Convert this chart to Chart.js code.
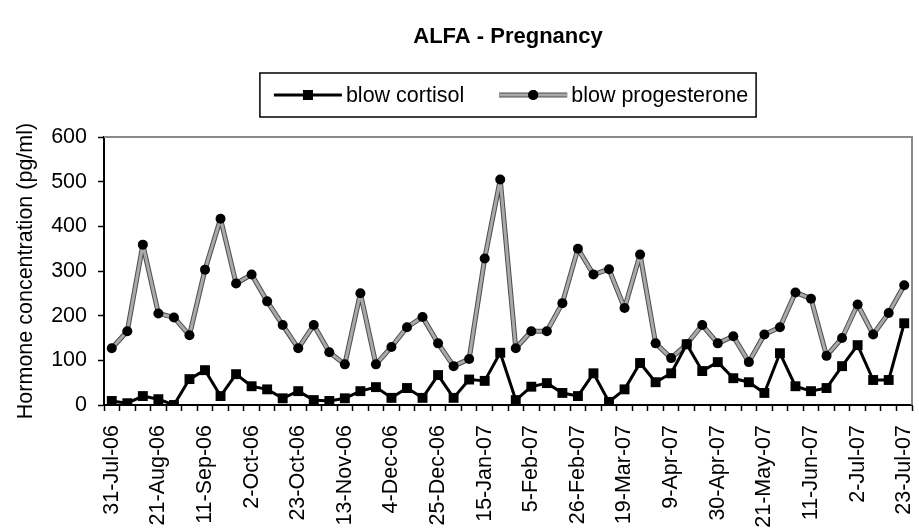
<!DOCTYPE html>
<html>
<head>
<meta charset="utf-8">
<script src="https://cdn.jsdelivr.net/npm/chart.js@4.4.1/dist/chart.umd.min.js"></script>
<style>
  html, body { margin: 0; padding: 0; background: #fff; }
  #wrap { width: 919px; height: 531px; }
</style>
</head>
<body>
<div id="wrap"><canvas id="chart" width="919" height="531"></canvas></div>
<script>
const chartTitle = 'ALFA - Pregnancy';
const yTitle = 'Hormone concentration (pg/ml)';

const weeks = [
  '31-Jul-06', '7-Aug-06', '14-Aug-06', '21-Aug-06', '28-Aug-06', '4-Sep-06',
  '11-Sep-06', '18-Sep-06', '25-Sep-06', '2-Oct-06', '9-Oct-06', '16-Oct-06',
  '23-Oct-06', '30-Oct-06', '6-Nov-06', '13-Nov-06', '20-Nov-06', '27-Nov-06',
  '4-Dec-06', '11-Dec-06', '18-Dec-06', '25-Dec-06', '1-Jan-07', '8-Jan-07',
  '15-Jan-07', '22-Jan-07', '29-Jan-07', '5-Feb-07', '12-Feb-07', '19-Feb-07',
  '26-Feb-07', '5-Mar-07', '12-Mar-07', '19-Mar-07', '26-Mar-07', '2-Apr-07',
  '9-Apr-07', '16-Apr-07', '23-Apr-07', '30-Apr-07', '7-May-07', '14-May-07',
  '21-May-07', '28-May-07', '4-Jun-07', '11-Jun-07', '18-Jun-07', '25-Jun-07',
  '2-Jul-07', '9-Jul-07', '16-Jul-07', '23-Jul-07'
];

const cortisol = [
  9, 4, 20, 13, 0, 58, 78, 20, 69, 42, 35, 15, 31, 11, 9, 15, 31, 40,
  16, 38, 16, 67, 16, 57, 54, 117, 11, 41, 49, 27, 20, 71, 7, 35, 94, 51,
  71, 136, 76, 96, 60, 51, 27, 116, 42, 31, 38, 87, 134, 56, 56, 183
];

const progesterone = [
  127, 165, 359, 205, 196, 156, 303, 417, 272, 292, 232, 179, 127, 179, 118, 91, 250, 91,
  130, 174, 197, 138, 87, 103, 328, 505, 127, 165, 165, 228, 350, 292, 304, 217, 337, 138,
  105, 136, 179, 138, 154, 96, 158, 174, 252, 238, 110, 150, 225, 158, 206, 268
];

const yMin = 0, yMax = 600, yStep = 100;
const labelEvery = 3;

const FONT = "'Liberation Sans', Arial, sans-serif";
const TXT = 21.5;

// gray top/right frame of the plot area
const plotFrame = {
  id: 'plotFrame',
  beforeDatasetsDraw(chart) {
    const { ctx, chartArea: a } = chart;
    ctx.save();
    ctx.strokeStyle = '#8a8a8a';
    ctx.lineWidth = 2;
    ctx.beginPath();
    ctx.moveTo(a.left, a.top);
    ctx.lineTo(a.right, a.top);
    ctx.lineTo(a.right, a.bottom);
    ctx.stroke();
    ctx.restore();
  }
};

// dark edge under the gray progesterone line
function strokeEdge(ctx, pts) {
  ctx.save();
  ctx.strokeStyle = '#4d4d4d';
  ctx.lineWidth = 5;
  ctx.lineJoin = 'round';
  ctx.beginPath();
  pts.forEach((p, i) => i ? ctx.lineTo(p.x, p.y) : ctx.moveTo(p.x, p.y));
  ctx.stroke();
  ctx.restore();
}

const edgeLine = {
  id: 'edgeLine',
  beforeDatasetDraw(chart, args) {
    if (args.index !== 1) return;
    strokeEdge(chart.ctx, args.meta.data);
  }
};

// title centred on the plot area + boxed legend with marker-on-line samples
const boxLegend = {
  id: 'boxLegend',
  afterDraw(chart) {
    const { ctx, chartArea: a } = chart;
    const midX = (a.left + a.right) / 2;
    ctx.save();
    ctx.fillStyle = '#000';
    ctx.textBaseline = 'middle';
    ctx.textAlign = 'center';
    ctx.font = 'bold 22px ' + FONT;
    ctx.fillText(chartTitle, midX, 37);

    ctx.font = TXT + 'px ' + FONT;
    ctx.textAlign = 'left';
    const sample = 68, gap = 4, itemGap = 35, padL = 14, padR = 8;
    const items = chart.data.datasets.map(ds => ({ ds, w: sample + gap + ctx.measureText(ds.label).width }));
    const boxW = padL + padR + items.reduce((s, it) => s + it.w, 0) + itemGap * (items.length - 1);
    const boxTop = 73, boxH = 44, cy = boxTop + boxH / 2;
    let x = midX - boxW / 2;
    ctx.strokeStyle = '#000';
    ctx.lineWidth = 1.5;
    ctx.strokeRect(x, boxTop, boxW, boxH);
    x += padL;
    items.forEach((it, i) => {
      const ds = it.ds;
      if (i === 1) strokeEdge(ctx, [{ x: x, y: cy }, { x: x + sample, y: cy }]);
      ctx.strokeStyle = ds.borderColor;
      ctx.lineWidth = ds.borderWidth;
      ctx.beginPath();
      ctx.moveTo(x, cy);
      ctx.lineTo(x + sample, cy);
      ctx.stroke();
      Chart.helpers.drawPoint(ctx, {
        pointStyle: ds.pointStyle, radius: ds.pointRadius, borderWidth: 0, rotation: 0
      }, x + sample / 2, cy);
      ctx.fillStyle = '#000';
      ctx.fill();
      ctx.fillText(ds.label, x + sample + gap, cy + 1);
      x += it.w + itemGap;
    });
    ctx.restore();
  }
};

new Chart(document.getElementById('chart'), {
  type: 'line',
  data: {
    labels: weeks,
    datasets: [
      {
        label: 'blow cortisol',
        data: cortisol,
        borderColor: '#000',
        borderWidth: 3,
        borderJoinStyle: 'round',
        pointStyle: 'rect',
        pointRadius: 7,
        pointBackgroundColor: '#000',
        pointBorderWidth: 0,
        tension: 0
      },
      {
        label: 'blow progesterone',
        data: progesterone,
        borderColor: '#a9a9a9',
        borderWidth: 3,
        borderJoinStyle: 'round',
        pointStyle: 'circle',
        pointRadius: 5,
        pointBackgroundColor: '#000',
        pointBorderWidth: 0,
        tension: 0
      }
    ]
  },
  options: {
    responsive: false,
    animation: false,
    devicePixelRatio: 1,
    events: [],
    layout: { padding: { left: 0, right: 2, top: 137, bottom: 0 } },
    plugins: {
      legend: { display: false },
      title: { display: false },
      tooltip: { enabled: false }
    },
    scales: {
      x: {
        offset: true,
        grid: { offset: true, drawOnChartArea: false, tickLength: 6, tickColor: '#000', tickWidth: 1.5 },
        border: { color: '#000', width: 2 },
        ticks: {
          autoSkip: false,
          maxRotation: 90,
          minRotation: 90,
          padding: 14,
          color: '#000',
          font: { family: FONT, size: TXT },
          callback: function (v, i) { return i % labelEvery === 0 ? this.getLabelForValue(v) : ''; }
        },
        afterFit(s) { s.height = 126; s.paddingLeft = 0; s.paddingRight = 0; }
      },
      y: {
        min: yMin,
        max: yMax,
        grid: { drawOnChartArea: false, tickLength: 6, tickColor: '#000', tickWidth: 1.5 },
        border: { color: '#000', width: 2 },
        ticks: { stepSize: yStep, padding: 11, color: '#000', font: { family: FONT, size: TXT } },
        title: {
          display: true,
          text: yTitle,
          color: '#000',
          font: { family: FONT, size: TXT },
          padding: { top: 13, bottom: 0 }
        },
        afterFit(s) { s.width = 104; s.paddingTop = 0; s.paddingBottom = 0; }
      }
    }
  },
  plugins: [plotFrame, edgeLine, boxLegend]
});
</script>
</body>
</html>
